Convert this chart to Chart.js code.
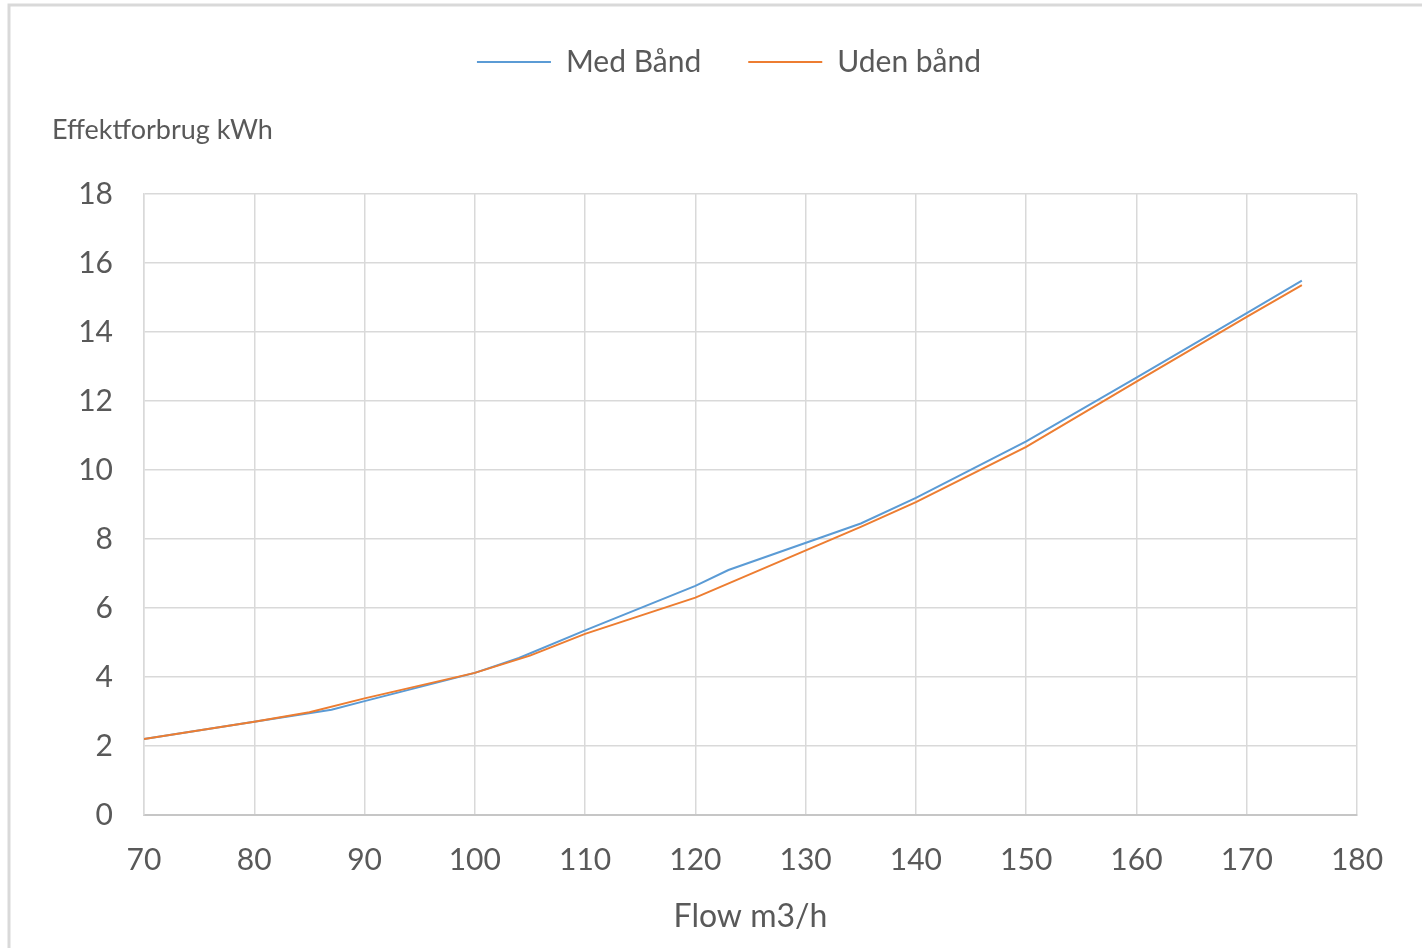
<!DOCTYPE html>
<html>
<head>
<meta charset="utf-8">
<title>Effektforbrug</title>
<script src="https://cdn.jsdelivr.net/npm/chart.js@4/dist/chart.umd.min.js"></script>
<style>
  html, body { margin: 0; padding: 0; background: #ffffff; overflow: hidden; }
  #wrap { position: relative; width: 1422px; height: 948px; }
</style>
</head>
<body>
<div id="wrap"><canvas id="chart"></canvas></div>
<script>
// Measured power consumption versus flow, with and without the band
const flowMed    = [70, 80, 87, 90, 100, 104, 110, 120, 123, 135, 140, 150, 160, 170, 175];
const effektMed  = [2.2, 2.7, 3.05, 3.3, 4.12, 4.55, 5.35, 6.64, 7.1, 8.45, 9.19, 10.83, 12.68, 14.55, 15.49];
const flowUden   = [70, 80, 85, 90, 100, 105, 110, 120, 135, 140, 150, 160, 170, 175];
const effektUden = [2.2, 2.7, 2.98, 3.38, 4.12, 4.62, 5.25, 6.3, 8.35, 9.07, 10.67, 12.56, 14.44, 15.36];

const seriesNames = ['Med Bånd', 'Uden bånd'];
const xTitle = 'Flow m3/h';
const yTitle = 'Effektforbrug kWh';

const TEXT = '#595959';
const GRID = '#d9d9d9';

function points(xs, ys) {
  return xs.map((x, i) => ({ x: x, y: ys[i] }));
}

// Outer frame, legend height and the horizontal y-axis caption
const chartDecor = {
  id: 'chartDecor',
  beforeUpdate(chart) {
    const lg = chart.legend;
    if (lg && !lg._fixedFit) {
      const fit = lg.fit;
      lg.fit = function () { fit.call(this); this.height = 194; };
      lg._fixedFit = true;
    }
  },
  beforeDraw(chart) {
    const ctx = chart.ctx;
    ctx.save();
    ctx.fillStyle = '#ffffff';
    ctx.fillRect(0, 0, chart.width, chart.height);
    ctx.strokeStyle = GRID;
    ctx.lineWidth = 3;
    ctx.beginPath();
    ctx.moveTo(9, chart.height);
    ctx.lineTo(9, 5);
    ctx.lineTo(chart.width, 5);
    ctx.stroke();
    ctx.restore();
  },
  afterDraw(chart) {
    const ctx = chart.ctx;
    ctx.save();
    ctx.fillStyle = TEXT;
    ctx.font = '27px Lato';
    ctx.textAlign = 'left';
    ctx.textBaseline = 'alphabetic';
    ctx.fillText(yTitle, 52, 139);
    ctx.restore();
  }
};

function draw() {
  Chart.defaults.font.family = 'Lato';
  Chart.defaults.color = TEXT;

  new Chart(document.getElementById('chart'), {
    type: 'scatter',
    data: {
      datasets: [
        {
          label: seriesNames[0],
          data: points(flowMed, effektMed),
          showLine: true,
          borderColor: '#5B9BD5',
          backgroundColor: '#5B9BD5',
          borderWidth: 2,
          pointRadius: 0,
          pointHoverRadius: 0,
          tension: 0,
          pointStyle: 'line',
          order: 1
        },
        {
          label: seriesNames[1],
          data: points(flowUden, effektUden),
          showLine: true,
          borderColor: '#ED7D31',
          backgroundColor: '#ED7D31',
          borderWidth: 2,
          pointRadius: 0,
          pointHoverRadius: 0,
          tension: 0,
          pointStyle: 'line',
          order: 0
        }
      ]
    },
    options: {
      responsive: true,
      maintainAspectRatio: false,
      animation: false,
      layout: { padding: { left: 75, right: 39, top: 0, bottom: 0 } },
      plugins: {
        tooltip: { enabled: false },
        legend: {
          position: 'top',
          align: 'center',
          labels: {
            usePointStyle: true,
            pointStyleWidth: 74,
            padding: 47,
            color: TEXT,
            font: { size: 30 },
            sort: (a, b) => a.datasetIndex - b.datasetIndex
          }
        }
      },
      scales: {
        x: {
          type: 'linear',
          min: 70,
          max: 180,
          afterFit(scale) { scale.height = 133; },
          ticks: { stepSize: 10, padding: 27, color: TEXT, font: { size: 30 }, maxRotation: 0 },
          grid: { color: GRID, lineWidth: 1.5, drawTicks: false },
          border: { display: true, color: '#c6c6c6', width: 2 },
          title: {
            display: true,
            text: xTitle,
            color: TEXT,
            font: { size: 32 },
            padding: { top: 4, bottom: 12 }
          }
        },
        y: {
          type: 'linear',
          position: 'left',
          min: 0,
          max: 18,
          afterFit(scale) { scale.width = 69; },
          ticks: { stepSize: 2, padding: 31, color: TEXT, font: { size: 30 } },
          grid: { color: GRID, lineWidth: 1.5, drawTicks: false },
          border: { display: true, color: GRID, width: 1.5 }
        },
        // empty spacer on the right so the plot ends where the frame needs it
        yRight: {
          type: 'linear',
          position: 'right',
          display: true,
          afterFit(scale) { scale.width = 26; },
          ticks: { display: false },
          grid: { display: false, drawTicks: false },
          border: { display: false }
        }
      }
    },
    plugins: [chartDecor]
  });
}

if (document.fonts && document.fonts.load) {
  document.fonts.load('30px Lato').then(draw, draw);
} else {
  draw();
}
</script>
</body>
</html>
